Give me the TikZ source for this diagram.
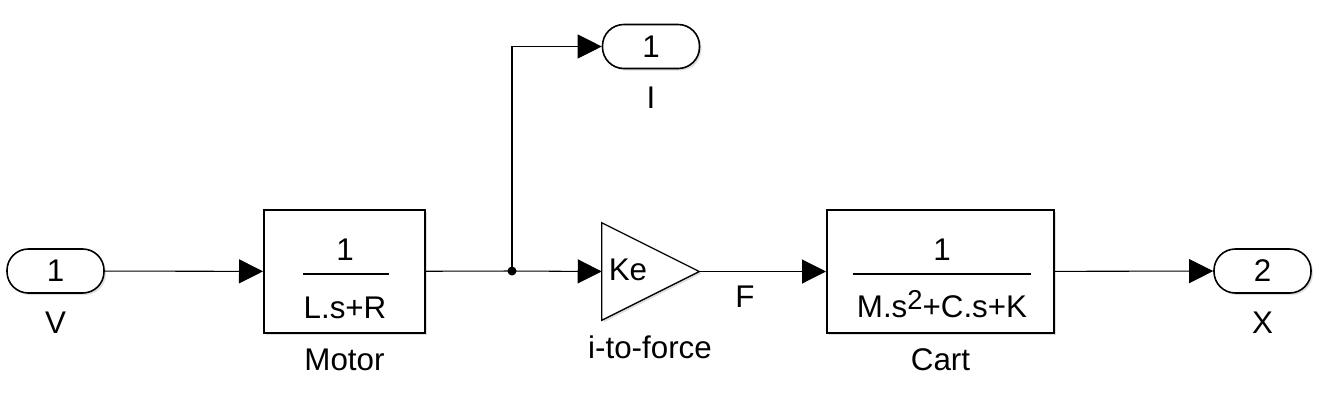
\documentclass[tikz,border=0pt]{standalone}
\usepackage{fontspec}
\setmainfont{Liberation Sans}
\usetikzlibrary{arrows.meta,shadows}
\tikzset{
  shd/.style={drop shadow={shadow xshift=1.5pt,shadow yshift=-1.5pt,opacity=0.25}},
  blk/.style={draw,line width=1.5pt,fill=white,shd,minimum height=92.25pt,inner sep=0pt},
  port/.style={draw,line width=1.2pt,fill=white,shd,rounded corners=16pt,minimum width=72.75pt,minimum height=33pt,inner sep=0pt},
  sig/.style={line width=0.8pt,-{Triangle[length=18pt,width=18pt]}},
  lbl/.style={anchor=base,inner sep=0pt}
}
\begin{document}
\begin{tikzpicture}[x=0.75pt,y=-0.75pt,font=\fontsize{23.5}{28}\selectfont,line join=miter]
\useasboundingbox (0,0) rectangle (1320,401);
% ports
\node[port] (V) at (55.5,271) {1};
\node[port] (I) at (651,46.5) {1};
\node[port] (X) at (1262.5,271) {2};
\node[lbl] (Vname) at (55.5,333) {V};
\node[lbl] (Iname) at (651,108) {I};
\node[lbl] (Xname) at (1262.5,333) {X};
% blocks
\node[blk,minimum width=120.75pt] (motor) at (344.5,271.5) {};
\node[blk,minimum width=170.25pt] (cart) at (940.5,271.5) {};
\node[minimum width=72.75pt,minimum height=72.75pt,inner sep=0pt] (gain) at (650.5,271.5) {};
\draw[line width=1pt,fill=white,shd] (gain.north west) -- (gain.east) -- (gain.south west) -- cycle;
\node[lbl] (ke) at (628,280) {Ke};
\node[lbl] (motnum) at (345,260) {1};
\node[lbl] (motden) at (345,318) {L.s+R};
\draw[line width=1.5pt] (303,274) -- (389,274);
\node[lbl] (cartnum) at (942,260) {1};
\node[lbl] (cartden) at (942,317) {M.s\raisebox{6pt}{\fontsize{20.5}{22}\selectfont 2}+C.s+K};
\draw[line width=1.5pt] (853,274) -- (1031,274);
\node[lbl] (motname) at (344.5,370) {Motor};
\node[lbl] (gainname) at (650,358) {i-to-force};
\node[lbl] (cartname) at (940.5,370) {Cart};
% signals
\coordinate (split) at (512,271);
\draw[sig] (V) -- (motor);
\draw[line width=0.8pt] (motor) -- (split);
\draw[sig] (split) -- (gain.west);
\draw[sig] (split) |- (I);
\draw[sig] (gain.east) -- (cart.west);
\node[lbl] (F) at (745,307) {F};
\draw[sig] (cart) -- (X);
\fill (split) circle(4.5);
\end{tikzpicture}
\end{document}
